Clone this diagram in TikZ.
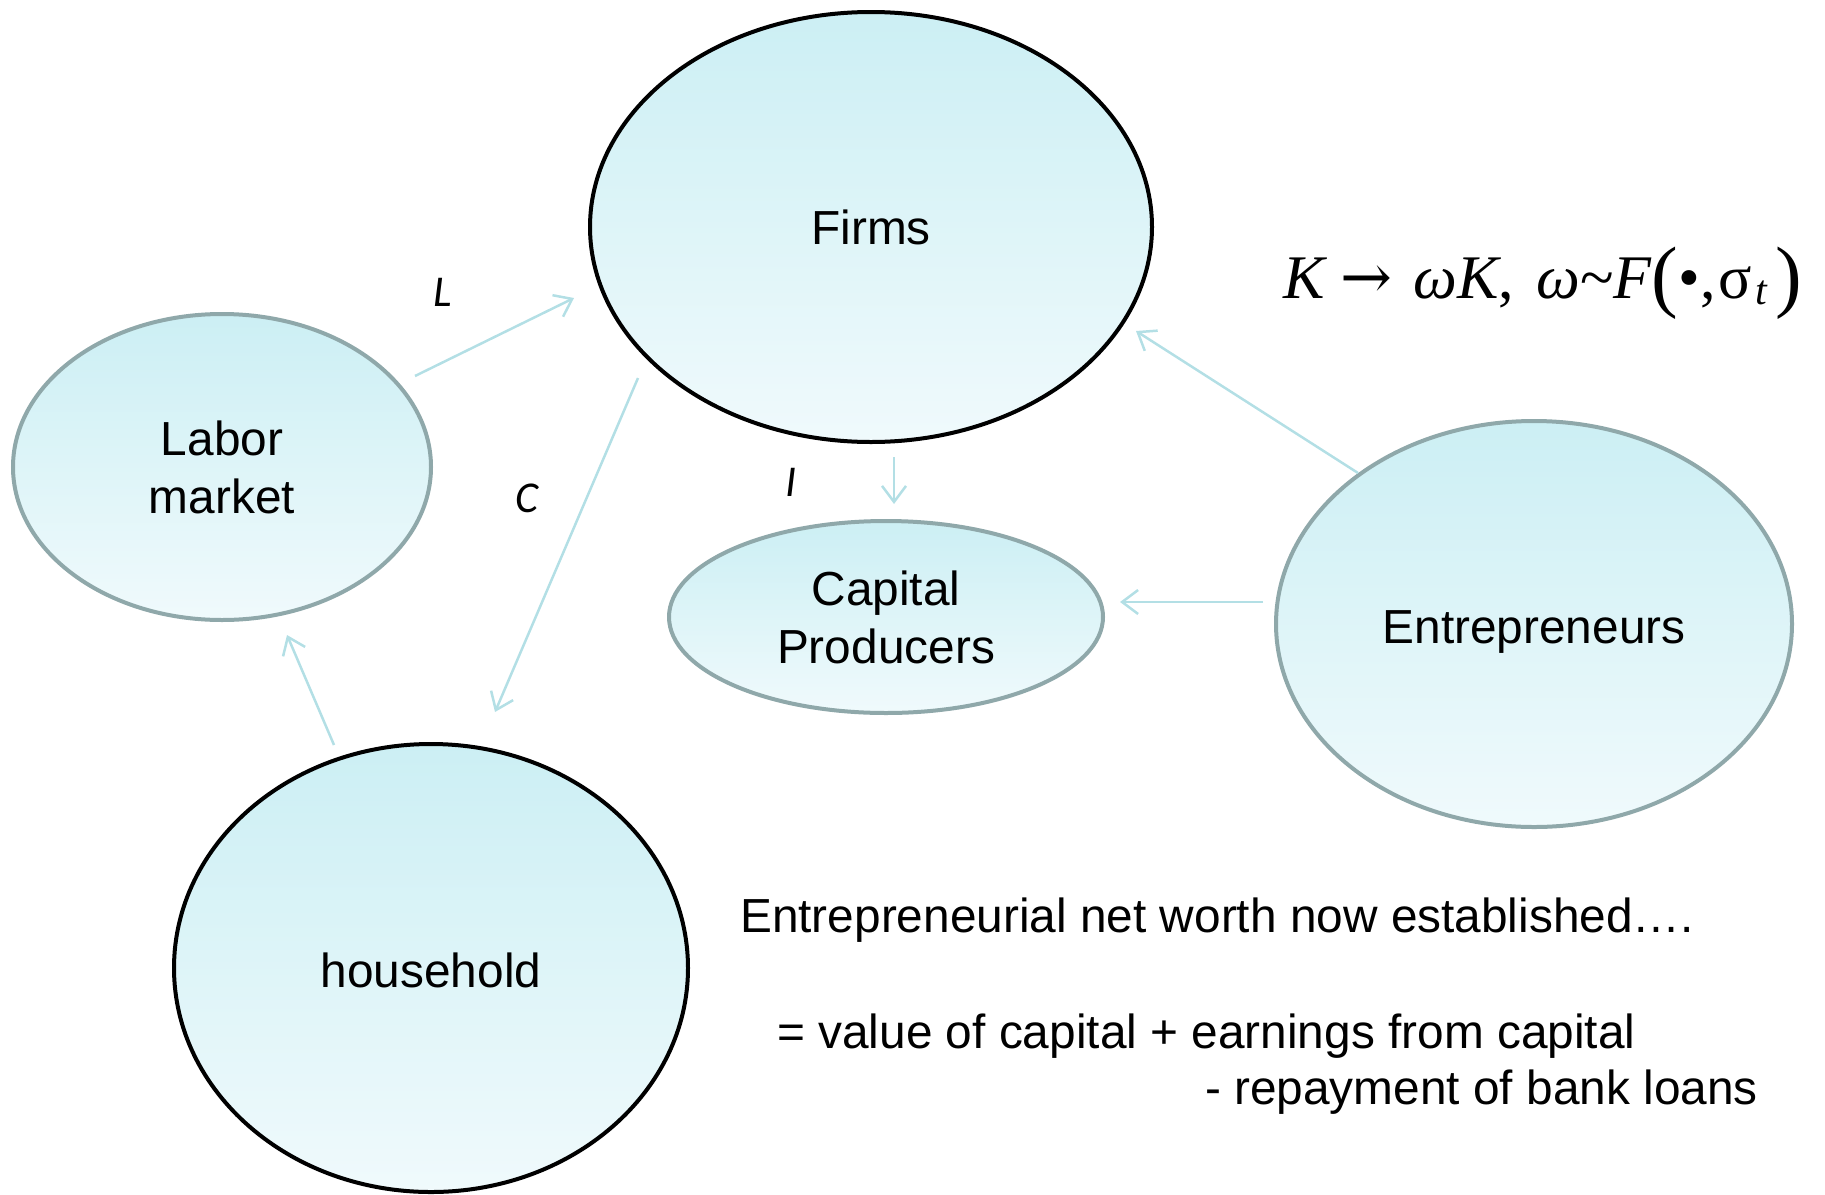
\documentclass[tikz,border=0pt]{standalone}
\usepackage{fontspec}
\setmainfont{Liberation Sans}
\newfontfamily\calfont{Carlito}
\newfontfamily\tmsfont{Liberation Serif}
\newfontfamily\djvfont{DejaVu Serif}
\usetikzlibrary{shapes.geometric,arrows.meta}
\definecolor{arrowc}{HTML}{B3DFE5}
\definecolor{greyb}{HTML}{8FA8AA}
\definecolor{topc}{HTML}{CCEFF4}
\definecolor{botc}{HTML}{F0FAFC}
\newcommand{\bigpar}[1]{{\fontsize{80}{80}\selectfont\raisebox{-0.06em}{#1}}}
\tikzset{
  blob/.style={ellipse, inner sep=0pt, top color=topc, bottom color=botc, line width=4pt,
    font=\fontsize{47.8}{58}\selectfont, align=center},
  blackblob/.style={blob, draw=black},
  greyblob/.style={blob, draw=greyb},
  arr/.style={draw=arrowc, line width=2.5pt, -{Straight Barb[length=16pt,width=24pt]}},
  lbl/.style={font=\calfont\itshape\fontsize{44}{50}\selectfont, inner sep=0pt},
  txt/.style={font=\fontsize{47.8}{58}\selectfont, inner sep=0pt}
}
\begin{document}
\begin{tikzpicture}[x=1pt,y=-1pt]
\useasboundingbox (0,0) rectangle (1825,1194);
\node[blackblob, minimum width=562pt, minimum height=430pt] (firms) at (871,227) {Firms};
\node[greyblob, minimum width=418pt, minimum height=306pt] (labor) at (222,467) {Labor\\market};
\node[greyblob, minimum width=434pt, minimum height=192pt] (cap) at (886,617) {\raisebox{0pt}[34pt][0pt]{}Capital\\Producers};
\node[greyblob, minimum width=516pt, minimum height=406pt, text height=48pt] (ent) at (1534,624) {Entrepreneurs};
\node[blackblob, minimum width=514pt, minimum height=448pt, text height=40pt] (house) at (431,968) {household};

\coordinate (l1) at (415,376); \coordinate (l2) at (574,298);
\coordinate (c1) at (638,378); \coordinate (c2) at (495,712);
\coordinate (i1) at (894,457); \coordinate (i2) at (894,504);
\coordinate (ef1) at (1358,473); \coordinate (ef2) at (1136,331);
\coordinate (ec1) at (1263,602); \coordinate (ec2) at (1120,602);
\coordinate (hl1) at (334,745); \coordinate (hl2) at (287,635);
\draw[arr] (l1) -- (l2);
\draw[arr] (c1) -- (c2);
\draw[arr] (i1) -- (i2);
\draw[arr] (ef1) -- (ef2);
\draw[arr] (ec1) -- (ec2);
\draw[arr] (hl1) -- (hl2);

\node[lbl] (lL) at (443,292) {L};
\node[lbl] (lC) at (527,498) {C};
\node[lbl] (lI) at (791,482) {I};

\node[anchor=base west, inner sep=0pt, font=\tmsfont\fontsize{62}{70}\selectfont] (formula) at (1283,298)
  {\textit{K}\hspace{0.22em}{\djvfont\fontsize{62}{66}\selectfont →}\hspace{0.33em}\textit{ωK},\hspace{0.36em}\textit{ω}\char"007E\textit{F}\bigpar{(}•,\hspace{0.05em}σ\hspace{0.05em}\raisebox{-0.22ex}{\fontsize{42}{44}\selectfont\textit{t}}\hspace{0.12em}\bigpar{)}};

\node[txt, anchor=base west] (t1) at (740,932) {Entrepreneurial net worth now established….};
\node[txt, anchor=base west] (t2) at (777,1048) {= value of capital + earnings from capital};
\node[txt, anchor=base east] (t3) at (1758,1104) {- repayment of bank loans};
\end{tikzpicture}
\end{document}
